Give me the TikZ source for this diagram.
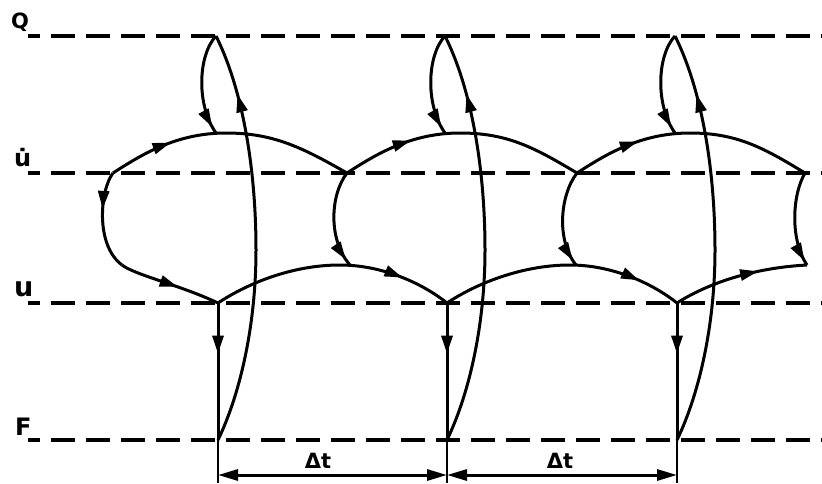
\documentclass[tikz,border=0pt]{standalone}
\usepackage{fontspec}
\setmainfont{DejaVu Sans}
\usetikzlibrary{arrows.meta,decorations.markings}
\begin{document}
\begin{tikzpicture}[x=1pt,y=-1pt,
  lvl/.style={line width=4.4pt, dash pattern=on 24pt off 11pt, dash phase=12pt, line cap=butt},
  crv/.style={line width=3pt, line join=round},
  arr/.style={postaction={decorate}, decoration={markings, mark=at position #1 with {\arrow{Triangle[length=18pt,width=11pt]}}}},
  ext/.style={line width=2.4pt},
  dim/.style={line width=3pt, {Triangle[length=20pt,width=11pt]}-{Triangle[length=20pt,width=11pt]}},
  lbl/.style={inner sep=0pt, anchor=base west, font=\bfseries}
]
\useasboundingbox (0,0) rectangle (822,483);

% level lines
\foreach \n/\y in {Q/36, D/173, U/303, F/440} {
  \coordinate (\n a) at (28,\y);
  \coordinate (\n b) at (822,\y);
  \draw[lvl] (\n a) -- (\n b);
}

% labels
\node[lbl] (lq) at (11,28) {\fontsize{21}{23}\selectfont Q};
\node[lbl] (ld) at (14,166) {\fontsize{24}{26}\selectfont \.{u}};
\node[lbl] (lu) at (14,296) {\fontsize{27}{29}\selectfont u};
\node[lbl] (lf) at (15,435) {\fontsize{24}{26}\selectfont F};

% junction points
\coordinate (J0) at (113,173);
\coordinate (J1) at (347,173);
\coordinate (J2) at (577,173);
\coordinate (J3) at (805,173);
\coordinate (M0) at (122,265);
\coordinate (M1) at (350,265);
\coordinate (M2) at (576,265);
\coordinate (M3) at (807,265);

% per-step elements
\foreach \i/\x in {1/218,2/447,3/677} {
  \coordinate (P\i) at (\x-2,36);
  \coordinate (T\i) at (\x-2,133);
  \coordinate (U\i) at (\x,303);
  \coordinate (F\i) at (\x,440);
  \coordinate (E\i) at (\x,483);
  \coordinate (A\i) at (\x,475);
  \draw[crv,arr=0.93] (P\i) .. controls (\x-20,55) and (\x-22,105) .. (T\i);
  \draw[crv,arr=0.85] (F\i) .. controls (\x+24,390) and (\x+38,320) .. (\x+38,250)
        .. controls (\x+38,170) and (\x+25,90) .. (P\i);
  \draw[crv,arr=0.37] (U\i) -- (F\i);
  \draw[ext] (F\i) -- (E\i);
}

% upper arcs
\draw[crv,arr=0.26] (J0) .. controls (141,155) and (176,133) .. (226,133)
      .. controls (274,133) and (303,148) .. (J1);
\draw[crv,arr=0.29] (J1) .. controls (375,155) and (410,133) .. (460,133)
      .. controls (508,133) and (535,148) .. (J2);
\draw[crv,arr=0.28] (J2) .. controls (605,155) and (640,133) .. (690,133)
      .. controls (737,133) and (764,148) .. (J3);

% side bulges
\draw[crv,arr=0.38] (J0) .. controls (100,190) and (95,245) .. (M0);
\draw[crv,arr=0.93] (J1) .. controls (330,195) and (328,240) .. (M1);
\draw[crv,arr=0.94] (J2) .. controls (560,195) and (556,240) .. (M2);
\draw[crv,arr=0.95] (J3) .. controls (792,195) and (790,240) .. (M3);

% lower arcs
\draw[crv,arr=0.58] (M0) .. controls (135,275) and (180,285) .. (U1);
\draw[crv,arr=0.79] (U1) .. controls (245,285) and (290,265) .. (340,265)
      .. controls (382,265) and (422,283) .. (U2);
\draw[crv,arr=0.82] (U2) .. controls (474,285) and (520,265) .. (570,265)
      .. controls (612,265) and (652,283) .. (U3);
\draw[crv,arr=0.64] (U3) .. controls (705,285) and (750,268) .. (M3);

% dimensions
\draw[dim] (A1) -- (A2);
\draw[dim] (A2) -- (A3);
\node[font=\bfseries\fontsize{21}{23}\selectfont, inner sep=0pt] (dt1) at (318,461) {Δt};
\node[font=\bfseries\fontsize{21}{23}\selectfont, inner sep=0pt] (dt2) at (560,461) {Δt};
\end{tikzpicture}
\end{document}
